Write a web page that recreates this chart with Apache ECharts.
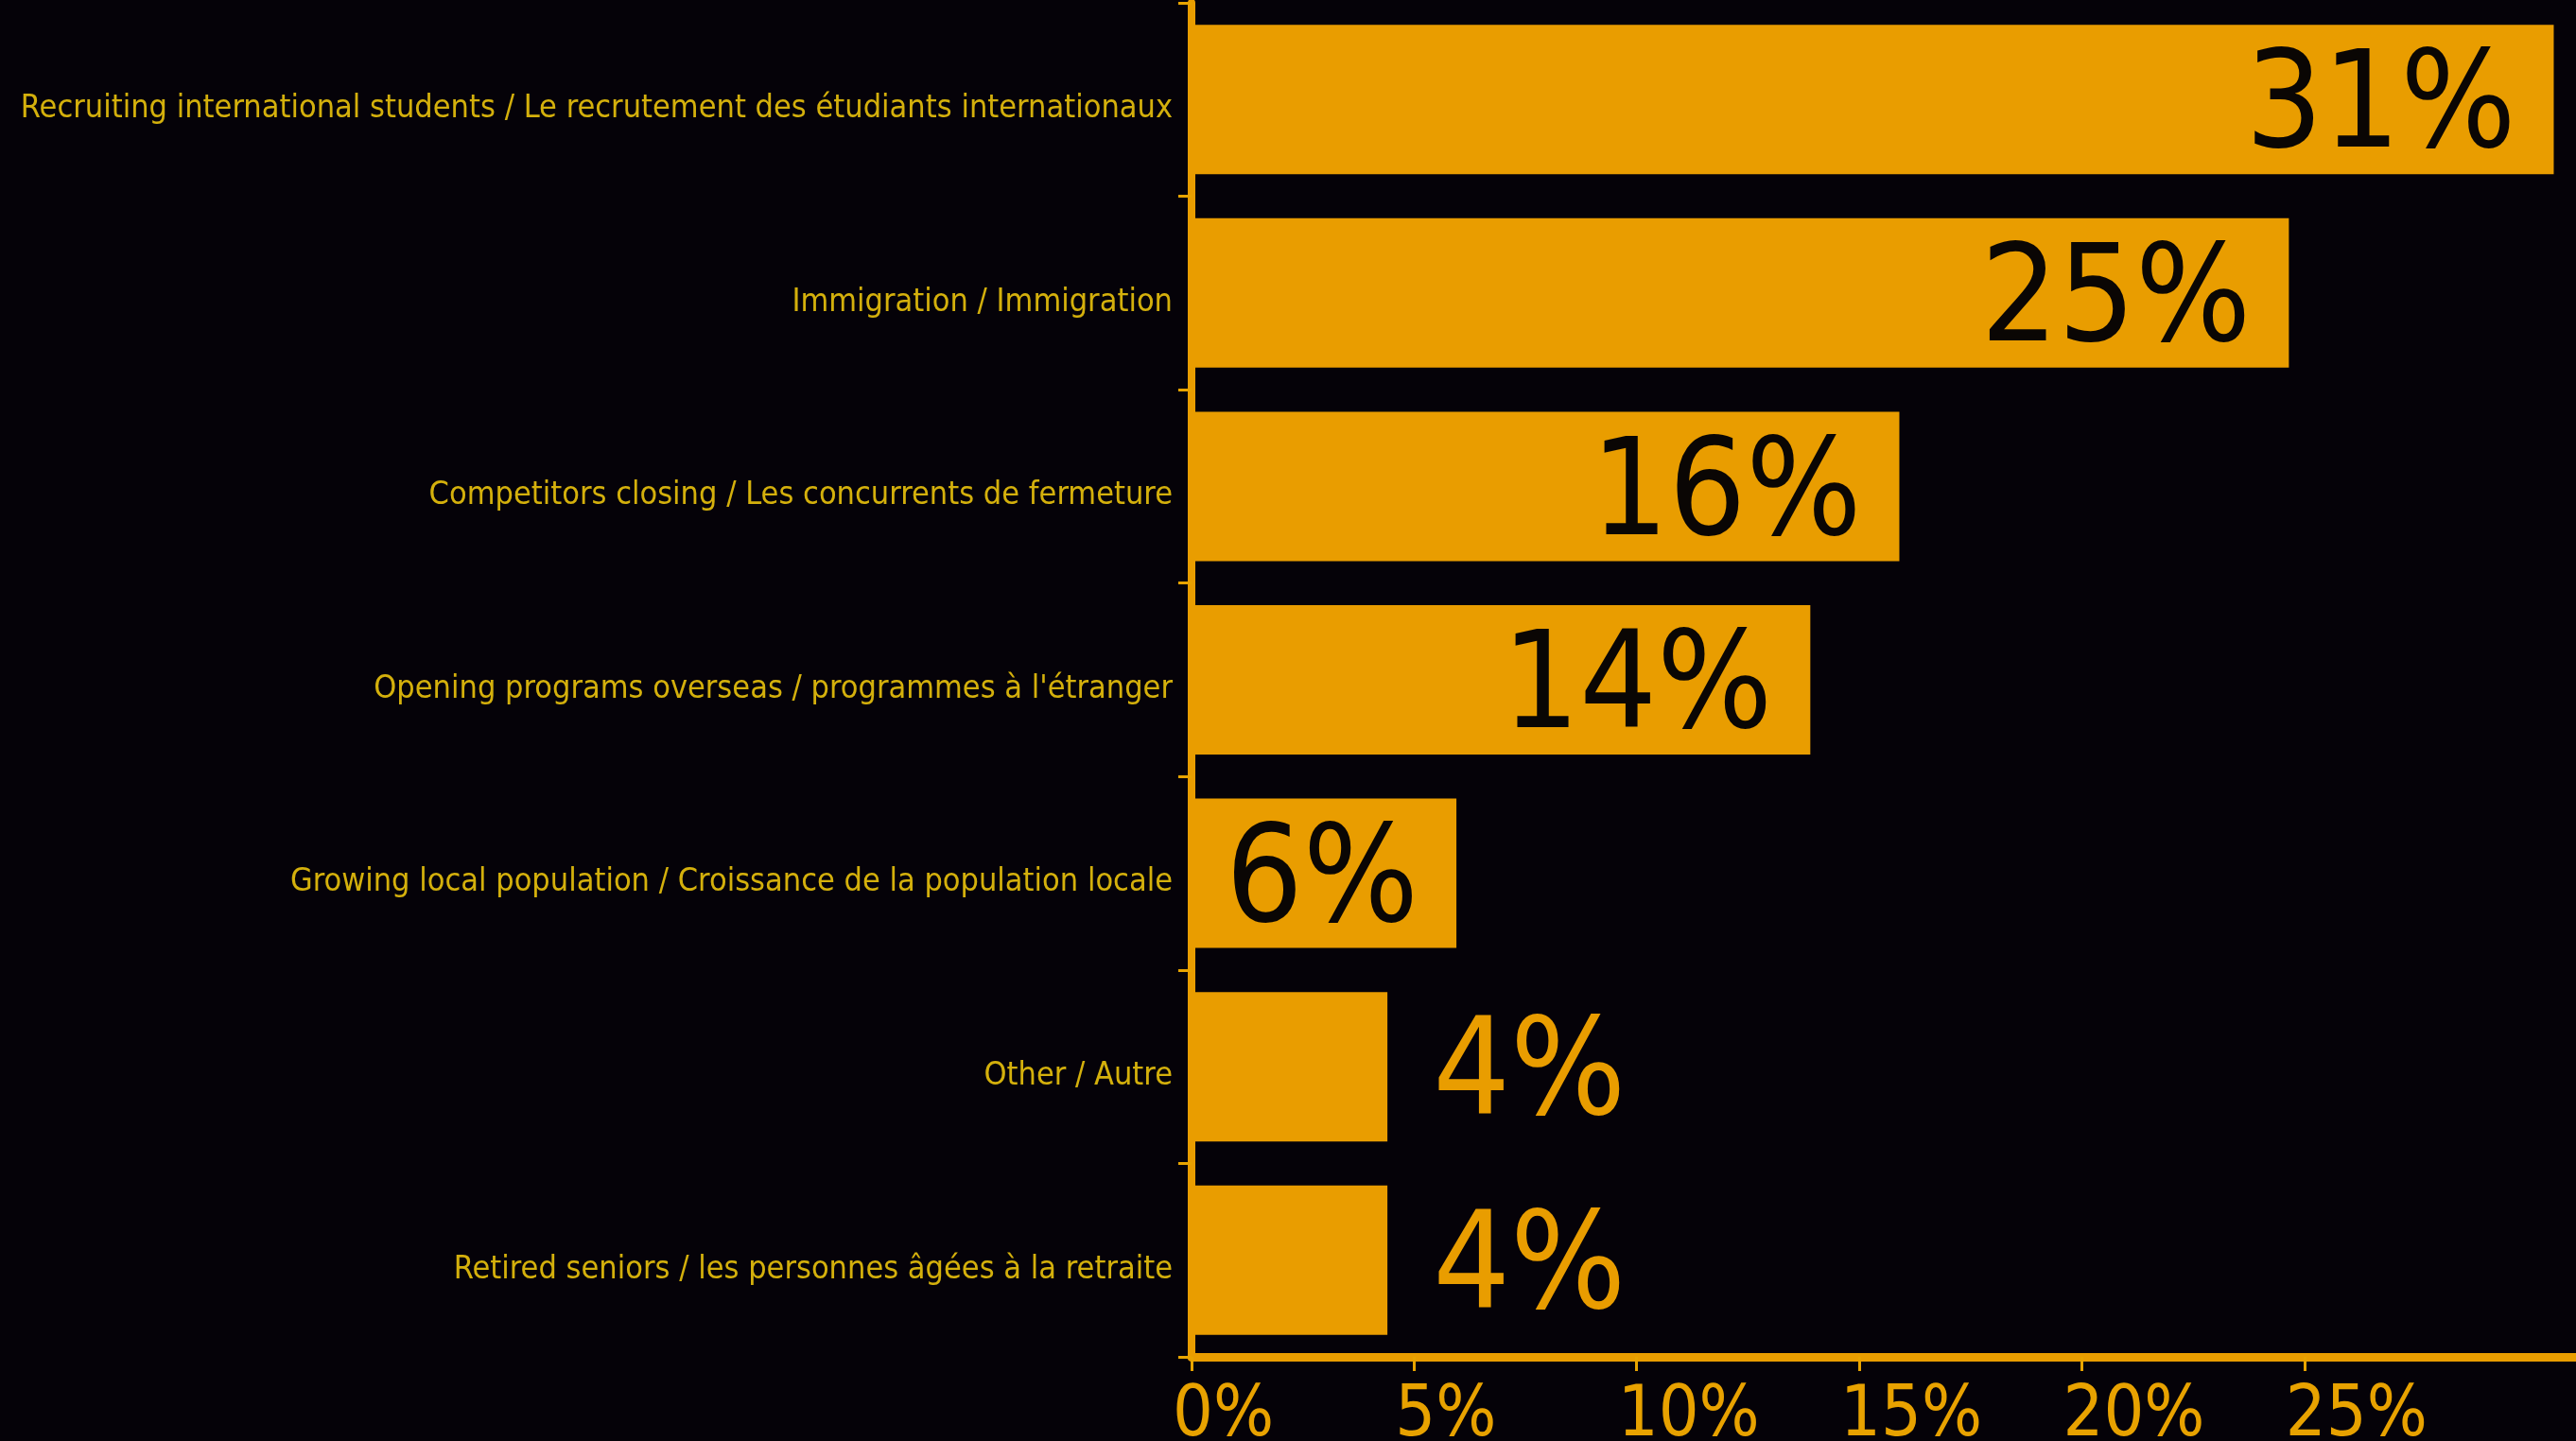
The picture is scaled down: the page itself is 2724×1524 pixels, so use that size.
<!DOCTYPE html>
<html>
<head>
<meta charset="utf-8">
<script src="https://cdn.jsdelivr.net/npm/echarts@6/dist/echarts.min.js"></script>
<style>
	html, body { margin: 0; padding: 0; background: #050208; }
	#chart { width: 2724px; height: 1524px; }
</style>
</head>
<body>
<div id="chart"></div>
<script>
// categories, top to bottom
var categories = [
	'Recruiting international students / Le recrutement des étudiants internationaux',
	'Immigration / Immigration',
	'Competitors closing / Les concurrents de fermeture',
	'Opening programs overseas / programmes à l\'étranger',
	'Growing local population / Croissance de la population locale',
	'Other / Autre',
	'Retired seniors / les personnes âgées à la retraite'
];
var values = [30.6, 24.65, 15.9, 13.9, 5.95, 4.4, 4.4];
var xTicks = [0, 5, 10, 15, 20, 25];

var orange = '#e99d00';
var condFont = 'DejaVu Sans Condensed, DejaVu Sans';

var chartMain = function(element) {
	var myChart = echarts.init(element);
	var seriesData = values.map(function(v) {
		// small bars get their label outside, in orange
		if (v < 5) {
			return {
				value: v,
				label: { position: 'right', distance: 48, color: orange }
			};
		}
		return { value: v };
	});
	var graph = {
		backgroundColor: '#050208',
		animation: false,
		grid: {
			left: 1260,
			right: 0,
			top: 3,
			bottom: 89,
			containLabel: false,
			outerBoundsMode: 'none'
		},
		xAxis: [
			{
				type: 'value',
				min: 0,
				max: 31.1,
				splitLine: { show: false },
				axisLine: { show: true, lineStyle: { color: orange, width: 9 } },
				axisTick: {
					show: true,
					customValues: xTicks,
					length: 15,
					lineStyle: { color: '#e8a400', width: 3 }
				},
				axisLabel: {
					customValues: xTicks,
					formatter: '{value}%',
					align: 'left',
					padding: [0, 0, 0, -20],
					margin: 26,
					color: '#e8a200',
					fontFamily: condFont,
					fontSize: 75
				}
			}
		],
		yAxis: [
			{
				type: 'category',
				inverse: true,
				data: categories,
				axisLine: { show: true, lineStyle: { color: orange, width: 8 } },
				axisTick: {
					show: true,
					length: 14,
					lineStyle: { color: '#e8a400', width: 3 }
				},
				axisLabel: {
					margin: 20,
					verticalAlign: 'top',
					lineHeight: 20,
					color: '#d4b00c',
					fontFamily: condFont,
					fontSize: 34
				}
			}
		],
		series: [
			{
				type: 'bar',
				barWidth: 158,
				itemStyle: { color: orange },
				label: {
					show: true,
					position: 'insideRight',
					distance: 40,
					offset: [0, 13],
					color: '#0a0604',
					fontFamily: condFont,
					fontSize: 143,
					formatter: function(p) { return Math.round(p.value) + '%'; }
				},
				data: seriesData
			}
		]
	};
	myChart.setOption(graph);
};

chartMain(document.getElementById('chart'));
</script>
</body>
</html>
